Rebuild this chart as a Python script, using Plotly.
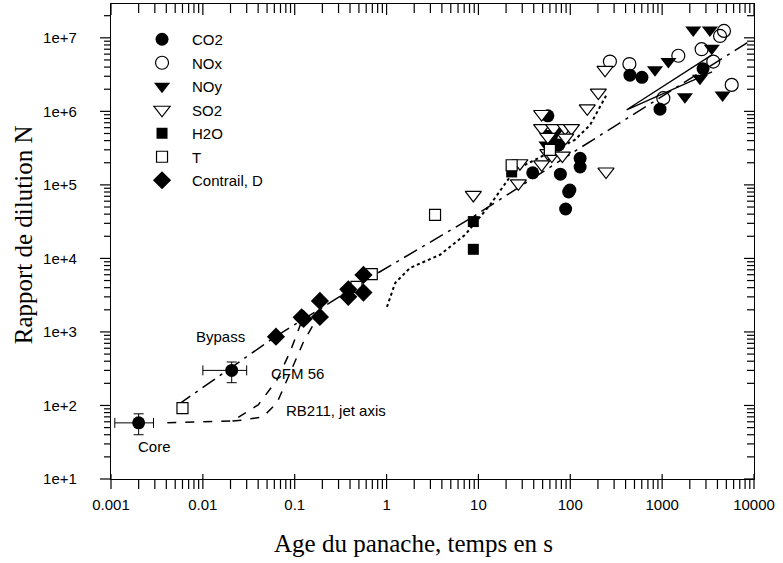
import math

import plotly.graph_objects as go

# --- data (age in s, dilution ratio N) ---
co2_x = [0.002, 0.0206, 57, 39, 78, 128, 128, 99, 96, 89, 446, 603, 948, 2790, 62, 75]
co2_y = [58, 300, 8.7e5, 1.46e5, 1.4e5, 2.3e5, 1.75e5, 8.5e4, 8.0e4, 4.7e4, 3.1e6, 2.9e6, 1.07e6, 3.8e6, 4.5e5, 3.5e5]
co2_xerr_plus = [0.0009, 0.0094, 0, 0, 0, 0, 0, 0, 0, 0, 0, 0, 0, 0, 0, 0]
co2_xerr_minus = [0.0009, 0.0106, 0, 0, 0, 0, 0, 0, 0, 0, 0, 0, 0, 0, 0, 0]
co2_yerr_plus = [19, 90, 0, 0, 0, 0, 0, 0, 0, 0, 0, 0, 0, 0, 0, 0]
co2_yerr_minus = [18, 96, 0, 0, 0, 0, 0, 0, 0, 0, 0, 0, 0, 0, 0, 0]

nox_x = [270, 440, 1500, 2690, 3600, 4270, 4710, 5720, 1030]
nox_y = [4.76e6, 4.4e6, 5.7e6, 7.0e6, 4.76e6, 1.06e7, 1.24e7, 2.29e6, 1.51e6]

noy_x = [2180, 3310, 836, 1170, 1770, 4550, 3470, 2580, 60, 72, 55]
noy_y = [1.28e7, 1.28e7, 3.67e6, 4.76e6, 1.58e6, 1.67e6, 7.2e6, 2.83e6, 5.0e5, 5.5e5, 3.5e5]

so2_x = [239, 202, 153, 48.8, 48.8, 66, 88, 103, 57, 89, 57, 28.3, 48.8, 27.2, 8.8, 245, 63, 82]
so2_y = [3.67e6, 1.8e6, 1.1e6, 9.2e5, 5.9e5, 5.9e5, 5.9e5, 5.9e5, 4.5e5, 4.4e5, 2.7e5, 1.97e5,
         1.9e5, 1.05e5, 7.3e4, 1.52e5, 2.5e5, 2.5e5]

h2o_x = [8.8, 8.8, 23]
h2o_y = [3.17e4, 1.33e4, 1.5e5]

t_x = [0.006, 3.37, 0.69, 0.47, 23, 60]
t_y = [92, 3.9e4, 6.1e3, 4.1e3, 1.85e5, 3.0e5]

contrail_x = [0.0625, 0.119, 0.125, 0.188, 0.188, 0.383, 0.383, 0.56, 0.56]
contrail_y = [863, 1580, 1500, 2640, 1600, 3800, 3000, 5960, 3430]

# curves
bypass_x = [0.00536, 0.061, 0.688, 8.73, 118, 9510]
bypass_y = [102, 855, 5650, 3.67e4, 2.99e5, 9.4e6]

cfm_x = [0.0041, 0.021, 0.040, 0.064, 0.089, 0.114, 0.123]
cfm_y = [58, 61.5, 102, 222, 535, 1245, 1550]

rb211_x = [0.021, 0.0274, 0.045, 0.064, 0.089, 0.123, 0.175]
rb211_y = [61.5, 63.5, 70, 108, 277, 708, 1550]

dotted_x = [1.01, 1.24, 1.80, 3.82, 7.14, 13.4, 25, 53, 112, 164, 245]
dotted_y = [2190, 4640, 7430, 1.12e4, 2.09e4, 5.35e4, 1.6e5, 2.56e5, 4.1e5, 6.5e5, 1.63e6]

wedge_x = [3490, 411, 3490]
wedge_y = [5.87e6, 1.05e6, 3.44e6]

SANS = "Liberation Sans, Arial, sans-serif"
SERIF = "Liberation Serif, Times New Roman, serif"

XR = [-3, 4]
YR = [1, 7.46]

fig = go.Figure()

# --- curves ---
line_kw = dict(mode="lines", showlegend=False, hoverinfo="skip")
fig.add_trace(go.Scatter(x=bypass_x, y=bypass_y, line=dict(color="black", width=1.5, dash="longdashdot"), **line_kw))
fig.add_trace(go.Scatter(x=cfm_x, y=cfm_y, line=dict(color="black", width=1.5, dash="dash"), **line_kw))
fig.add_trace(go.Scatter(x=rb211_x, y=rb211_y, line=dict(color="black", width=1.5, dash="dash"), **line_kw))
fig.add_trace(go.Scatter(x=dotted_x, y=dotted_y, line=dict(color="black", width=2, dash="dot"), **line_kw))
fig.add_trace(go.Scatter(x=wedge_x, y=wedge_y, line=dict(color="black", width=1.3), **line_kw))

# --- markers ---
open_line = dict(color="black", width=1.2)
series = [
    ("CO2", None, None, dict(symbol="circle", size=13, color="black")),
    ("NOx", nox_x, nox_y, dict(symbol="circle-open", size=13, color="black", line=open_line)),
    ("NOy", noy_x, noy_y, dict(symbol="triangle-down", size=14, color="black")),
    ("SO2", so2_x, so2_y, dict(symbol="triangle-down", size=14, color="white", line=open_line)),
    ("H2O", h2o_x, h2o_y, dict(symbol="square", size=11, color="black")),
    ("T", t_x, t_y, dict(symbol="square", size=11, color="white", line=open_line)),
    ("Contrail, D", contrail_x, contrail_y, dict(symbol="diamond", size=14, color="black")),
]
for i, (name, xs, ys, marker) in enumerate(series):
    if name == "CO2":
        fig.add_trace(go.Scatter(
            x=co2_x, y=co2_y, mode="markers", name=name, marker=marker,
            legendgroup=str(i),
            error_x=dict(type="data", array=co2_xerr_plus, arrayminus=co2_xerr_minus,
                         color="black", thickness=1, width=5),
            error_y=dict(type="data", array=co2_yerr_plus, arrayminus=co2_yerr_minus,
                         color="black", thickness=1, width=5),
        ))
    else:
        fig.add_trace(go.Scatter(x=xs, y=ys, mode="markers", name=name, marker=marker,
                                 legendgroup=str(i)))

# --- tick marks drawn as shapes (major decades + minor 2..9) ---
def x_frac(v):
    return (math.log10(v) - XR[0]) / (XR[1] - XR[0])


def y_frac(v):
    return (math.log10(v) - YR[0]) / (YR[1] - YR[0])


tick_line = dict(color="black", width=1.2)
x_major = [10.0 ** e for e in range(-3, 5)]
x_minor = [m * 10.0 ** e for e in range(-3, 4) for m in range(2, 10)]
y_major = [10.0 ** e for e in range(1, 8)]
y_minor = [m * 10.0 ** e for e in range(1, 8) for m in range(2, 10) if math.log10(m * 10.0 ** e) < YR[1]]

for v in x_major + x_minor:
    px = x_frac(v)
    major = v in x_major
    # bottom (outside, majors cross the axis)
    fig.add_shape(type="line", xref="paper", yref="paper", ysizemode="pixel", yanchor=0,
                  x0=px, x1=px, y0=5 if major else 0, y1=-10, line=tick_line)
    # top (inside)
    fig.add_shape(type="line", xref="paper", yref="paper", ysizemode="pixel", yanchor=1,
                  x0=px, x1=px, y0=0, y1=-11 if major else -9, line=tick_line)

for v in y_major + y_minor:
    py = y_frac(v)
    major = v in y_major
    # left (outside)
    fig.add_shape(type="line", xref="paper", yref="paper", xsizemode="pixel", xanchor=0,
                  y0=py, y1=py, x0=0, x1=-11 if major else -7, line=tick_line)
    # right (inside)
    fig.add_shape(type="line", xref="paper", yref="paper", xsizemode="pixel", xanchor=1,
                  y0=py, y1=py, x0=0, x1=-10 if major else -7, line=tick_line)

# --- annotations ---
for text, ax, ay in [("Bypass", 0.17, 0.299), ("CFM 56", 0.29, 0.223),
                     ("RB211, jet axis", 0.35, 0.145), ("Core", 0.067, 0.069)]:
    fig.add_annotation(x=ax, y=ay, xref="paper", yref="paper", text=text, showarrow=False,
                       xanchor="center", yanchor="middle",
                       font=dict(family=SANS, size=15, color="black"))

# axis titles
fig.add_annotation(x=0.47, y=-0.135, xref="paper", yref="paper", text="Age du panache, temps en s",
                   showarrow=False, xanchor="center", yanchor="middle",
                   font=dict(family=SERIF, size=25, color="black"))
fig.add_annotation(x=-0.137, y=0.515, xref="paper", yref="paper", text="Rapport de dilution N",
                   showarrow=False, textangle=-90, xanchor="center", yanchor="middle",
                   font=dict(family=SERIF, size=25, color="black"))

fig.update_layout(
    width=783,
    height=563,
    margin=dict(l=111, r=29, t=4, b=84),
    paper_bgcolor="white",
    plot_bgcolor="white",
    font=dict(family=SANS, size=15, color="black"),
    xaxis=dict(
        type="log", range=XR, dtick=1, tickformat="~g", ticks="", ticklabelstandoff=12,
        showline=True, mirror=True, linecolor="black", linewidth=1.3,
        showgrid=False, zeroline=False,
        tickfont=dict(family=SANS, size=15),
    ),
    yaxis=dict(
        type="log", range=YR, dtick=1, tickformat=".0e", ticks="", ticklabelstandoff=30,
        showline=True, mirror=True, linecolor="black", linewidth=1.3,
        showgrid=False, zeroline=False,
        tickfont=dict(family=SANS, size=15),
    ),
    legend=dict(
        x=0.0327, y=0.96, xanchor="left", yanchor="top",
        traceorder="grouped", tracegroupgap=1, itemwidth=50,
        font=dict(family=SANS, size=15),
        bgcolor="rgba(0,0,0,0)",
    ),
    showlegend=True,
)

fig.write_html("out.html", config={"displayModeBar": False},
               post_script="document.body.style.margin='0';")
